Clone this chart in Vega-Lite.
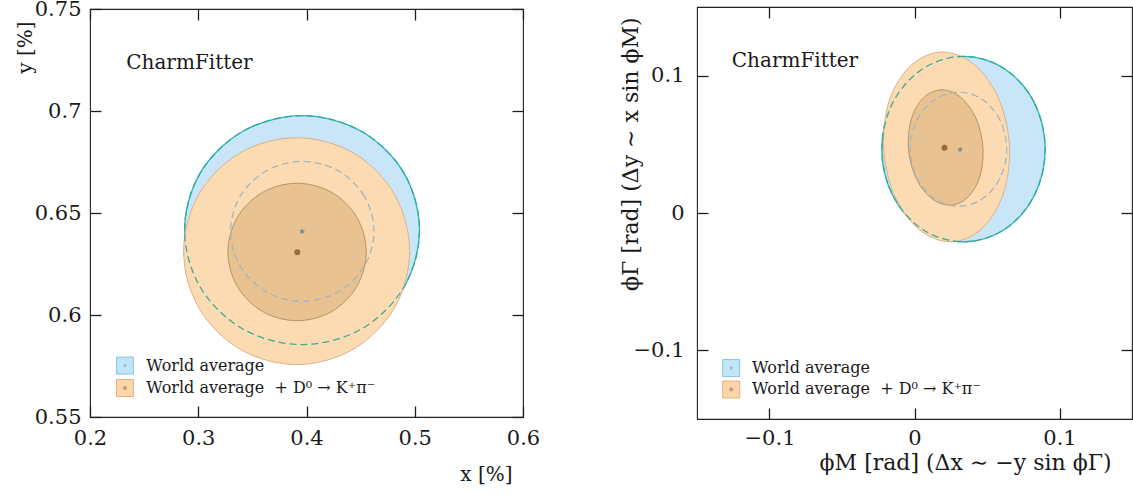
{
  "$schema": "https://vega.github.io/schema/vega-lite/v6.json",
  "padding": {"left": 14, "top": -3, "right": 0, "bottom": 0},
  "bounds": "flush",
  "center": true,
  "spacing": 174,
  "config": {
    "font": "DejaVu Serif",
    "view": {"stroke": "#222222", "strokeWidth": 1.1},
    "axis": {
      "domain": false,
      "grid": false,
      "offset": -11,
      "ticks": true,
      "tickColor": "#1e1e1e",
      "tickOpacity": 1,
      "tickWidth": 1.3,
      "tickSize": 11,
      "labelFontSize": 21,
      "labelColor": "#1a1a1a",
      "labelFont": "DejaVu Serif",
      "labelFlush": false,
      "labelOverlap": false,
      "titleFont": "DejaVu Serif",
      "titleFontWeight": "normal",
      "titleColor": "#1a1a1a",
      "zindex": 2
    }
  },
  "datasets": {
    "left": [
      {"c": "wa2", "i": 0, "x": 0.5044, "y": 0.6416},
      {"c": "wa2", "i": 1, "x": 0.4899, "y": 0.6697},
      {"c": "wa2", "i": 2, "x": 0.4502, "y": 0.6902},
      {"c": "wa2", "i": 3, "x": 0.3959, "y": 0.6977},
      {"c": "wa2", "i": 4, "x": 0.3417, "y": 0.6902},
      {"c": "wa2", "i": 5, "x": 0.3019, "y": 0.6697},
      {"c": "wa2", "i": 6, "x": 0.2874, "y": 0.6416},
      {"c": "wa2", "i": 7, "x": 0.3019, "y": 0.6136},
      {"c": "wa2", "i": 8, "x": 0.3417, "y": 0.5930},
      {"c": "wa2", "i": 9, "x": 0.3959, "y": 0.5855},
      {"c": "wa2", "i": 10, "x": 0.4502, "y": 0.5930},
      {"c": "wa2", "i": 11, "x": 0.4899, "y": 0.6136},
      {"c": "wa1", "i": 0, "x": 0.4623, "y": 0.6410},
      {"c": "wa1", "i": 1, "x": 0.4534, "y": 0.6582},
      {"c": "wa1", "i": 2, "x": 0.4292, "y": 0.6707},
      {"c": "wa1", "i": 3, "x": 0.3961, "y": 0.6753},
      {"c": "wa1", "i": 4, "x": 0.3630, "y": 0.6707},
      {"c": "wa1", "i": 5, "x": 0.3388, "y": 0.6582},
      {"c": "wa1", "i": 6, "x": 0.3299, "y": 0.6410},
      {"c": "wa1", "i": 7, "x": 0.3388, "y": 0.6239},
      {"c": "wa1", "i": 8, "x": 0.3630, "y": 0.6113},
      {"c": "wa1", "i": 9, "x": 0.3961, "y": 0.6067},
      {"c": "wa1", "i": 10, "x": 0.4292, "y": 0.6113},
      {"c": "wa1", "i": 11, "x": 0.4534, "y": 0.6239},
      {"c": "cb2", "i": 0, "x": 0.4953, "y": 0.6313},
      {"c": "cb2", "i": 1, "x": 0.4813, "y": 0.6591},
      {"c": "cb2", "i": 2, "x": 0.4431, "y": 0.6795},
      {"c": "cb2", "i": 3, "x": 0.3909, "y": 0.6869},
      {"c": "cb2", "i": 4, "x": 0.3387, "y": 0.6795},
      {"c": "cb2", "i": 5, "x": 0.3005, "y": 0.6591},
      {"c": "cb2", "i": 6, "x": 0.2865, "y": 0.6313},
      {"c": "cb2", "i": 7, "x": 0.3005, "y": 0.6035},
      {"c": "cb2", "i": 8, "x": 0.3387, "y": 0.5832},
      {"c": "cb2", "i": 9, "x": 0.3909, "y": 0.5757},
      {"c": "cb2", "i": 10, "x": 0.4431, "y": 0.5832},
      {"c": "cb2", "i": 11, "x": 0.4813, "y": 0.6035},
      {"c": "cb1", "i": 0, "x": 0.4552, "y": 0.6309},
      {"c": "cb1", "i": 1, "x": 0.4466, "y": 0.6478},
      {"c": "cb1", "i": 2, "x": 0.4233, "y": 0.6601},
      {"c": "cb1", "i": 3, "x": 0.3913, "y": 0.6646},
      {"c": "cb1", "i": 4, "x": 0.3594, "y": 0.6601},
      {"c": "cb1", "i": 5, "x": 0.3360, "y": 0.6478},
      {"c": "cb1", "i": 6, "x": 0.3274, "y": 0.6309},
      {"c": "cb1", "i": 7, "x": 0.3360, "y": 0.6141},
      {"c": "cb1", "i": 8, "x": 0.3594, "y": 0.6017},
      {"c": "cb1", "i": 9, "x": 0.3913, "y": 0.5972},
      {"c": "cb1", "i": 10, "x": 0.4233, "y": 0.6017},
      {"c": "cb1", "i": 11, "x": 0.4466, "y": 0.6141}
    ],
    "right": [
      {"c": "wa2", "i": 0, "x": 0.0901, "y": 0.0465},
      {"c": "wa2", "i": 1, "x": 0.0826, "y": 0.0803},
      {"c": "wa2", "i": 2, "x": 0.0620, "y": 0.1050},
      {"c": "wa2", "i": 3, "x": 0.0338, "y": 0.1140},
      {"c": "wa2", "i": 4, "x": 0.0057, "y": 0.1050},
      {"c": "wa2", "i": 5, "x": -0.0150, "y": 0.0803},
      {"c": "wa2", "i": 6, "x": -0.0225, "y": 0.0465},
      {"c": "wa2", "i": 7, "x": -0.0150, "y": 0.0128},
      {"c": "wa2", "i": 8, "x": 0.0057, "y": -0.0120},
      {"c": "wa2", "i": 9, "x": 0.0338, "y": -0.0210},
      {"c": "wa2", "i": 10, "x": 0.0620, "y": -0.0120},
      {"c": "wa2", "i": 11, "x": 0.0826, "y": 0.0128},
      {"c": "wa1", "i": 0, "x": 0.0636, "y": 0.0465},
      {"c": "wa1", "i": 1, "x": 0.0591, "y": 0.0673},
      {"c": "wa1", "i": 2, "x": 0.0470, "y": 0.0825},
      {"c": "wa1", "i": 3, "x": 0.0303, "y": 0.0881},
      {"c": "wa1", "i": 4, "x": 0.0137, "y": 0.0825},
      {"c": "wa1", "i": 5, "x": 0.0015, "y": 0.0673},
      {"c": "wa1", "i": 6, "x": -0.0030, "y": 0.0465},
      {"c": "wa1", "i": 7, "x": 0.0015, "y": 0.0257},
      {"c": "wa1", "i": 8, "x": 0.0137, "y": 0.0105},
      {"c": "wa1", "i": 9, "x": 0.0303, "y": 0.0049},
      {"c": "wa1", "i": 10, "x": 0.0470, "y": 0.0105},
      {"c": "wa1", "i": 11, "x": 0.0591, "y": 0.0257},
      {"c": "cb2", "i": 0, "x": 0.0655, "y": 0.0481},
      {"c": "cb2", "i": 1, "x": 0.0583, "y": 0.0827},
      {"c": "cb2", "i": 2, "x": 0.0414, "y": 0.1079},
      {"c": "cb2", "i": 3, "x": 0.0193, "y": 0.1172},
      {"c": "cb2", "i": 4, "x": -0.0020, "y": 0.1079},
      {"c": "cb2", "i": 5, "x": -0.0171, "y": 0.0827},
      {"c": "cb2", "i": 6, "x": -0.0213, "y": 0.0481},
      {"c": "cb2", "i": 7, "x": -0.0141, "y": 0.0136},
      {"c": "cb2", "i": 8, "x": 0.0028, "y": -0.0117},
      {"c": "cb2", "i": 9, "x": 0.0249, "y": -0.0210},
      {"c": "cb2", "i": 10, "x": 0.0462, "y": -0.0117},
      {"c": "cb2", "i": 11, "x": 0.0611, "y": 0.0136},
      {"c": "cb1", "i": 0, "x": 0.0472, "y": 0.0477},
      {"c": "cb1", "i": 1, "x": 0.0425, "y": 0.0687},
      {"c": "cb1", "i": 2, "x": 0.0321, "y": 0.0841},
      {"c": "cb1", "i": 3, "x": 0.0189, "y": 0.0897},
      {"c": "cb1", "i": 4, "x": 0.0064, "y": 0.0841},
      {"c": "cb1", "i": 5, "x": -0.0021, "y": 0.0687},
      {"c": "cb1", "i": 6, "x": -0.0042, "y": 0.0477},
      {"c": "cb1", "i": 7, "x": 0.0005, "y": 0.0267},
      {"c": "cb1", "i": 8, "x": 0.0109, "y": 0.0113},
      {"c": "cb1", "i": 9, "x": 0.0241, "y": 0.0057},
      {"c": "cb1", "i": 10, "x": 0.0366, "y": 0.0113},
      {"c": "cb1", "i": 11, "x": 0.0451, "y": 0.0267}
    ],
    "leftCentres": [
      {"s": "wa", "x": 0.396, "y": 0.641},
      {"s": "cb", "x": 0.3915, "y": 0.6308}
    ],
    "rightCentres": [
      {"s": "wa", "x": 0.0315, "y": 0.0462},
      {"s": "cb", "x": 0.0207, "y": 0.0476}
    ]
  },
  "hconcat": [
    {
      "width": 433,
      "height": 408,
      "resolve": {"axis": {"x": "independent", "y": "independent"}},
      "layer": [
        {
          "data": {"name": "left"},
          "transform": [{"filter": "datum.c === 'wa2'"}],
          "mark": {"type": "line", "interpolate": "cardinal-closed", "fill": "#c8e6f8", "stroke": "#23b4c6", "strokeWidth": 1.3},
          "encoding": {
            "x": {"field": "x", "type": "quantitative", "scale": {"domain": [0.2, 0.6], "nice": false, "zero": false},
                  "axis": {"orient": "bottom", "values": [0.2, 0.3, 0.4, 0.5, 0.6], "format": "~g", "labelPadding": 10,
                           "title": "x [%]", "titleFontSize": 20, "titleX": 422, "titleY": 74, "titleAlign": "right", "titleBaseline": "alphabetic", "titleAngle": 0}},
            "y": {"field": "y", "type": "quantitative", "scale": {"domain": [0.55, 0.75], "nice": false, "zero": false},
                  "axis": {"orient": "left", "values": [0.55, 0.6, 0.65, 0.7, 0.75], "format": "~g", "labelPadding": 9,
                           "title": "y [%]", "titleFontSize": 20, "titleX": -70, "titleY": 12, "titleAlign": "right", "titleBaseline": "alphabetic", "titleAngle": 270}},
            "order": {"field": "i", "type": "quantitative"}
          }
        },
        {
          "data": {"name": "left"},
          "transform": [{"filter": "datum.c === 'cb2'"}],
          "mark": {"type": "line", "interpolate": "cardinal-closed", "fill": "#fddbb2", "stroke": "#dcb089", "strokeWidth": 1},
          "encoding": {
            "x": {"field": "x", "type": "quantitative", "axis": null},
            "y": {"field": "y", "type": "quantitative", "axis": null},
            "order": {"field": "i", "type": "quantitative"}
          }
        },
        {
          "data": {"name": "left"},
          "transform": [{"filter": "datum.c === 'cb1'"}],
          "mark": {"type": "line", "interpolate": "cardinal-closed", "fill": "#e9c291", "stroke": "#b89262", "strokeWidth": 1},
          "encoding": {
            "x": {"field": "x", "type": "quantitative", "axis": null},
            "y": {"field": "y", "type": "quantitative", "axis": null},
            "order": {"field": "i", "type": "quantitative"}
          }
        },
        {
          "data": {"name": "left"},
          "transform": [{"filter": "datum.c === 'wa2'"}],
          "mark": {"type": "line", "interpolate": "cardinal-closed", "stroke": "#39aa93", "strokeWidth": 1.3, "strokeDash": [7, 4]},
          "encoding": {
            "x": {"field": "x", "type": "quantitative", "axis": null},
            "y": {"field": "y", "type": "quantitative", "axis": null},
            "order": {"field": "i", "type": "quantitative"}
          }
        },
        {
          "data": {"name": "left"},
          "transform": [{"filter": "datum.c === 'wa1'"}],
          "mark": {"type": "line", "interpolate": "cardinal-closed", "stroke": "#a3b6bd", "strokeWidth": 1.3, "strokeDash": [7, 4]},
          "encoding": {
            "x": {"field": "x", "type": "quantitative", "axis": null},
            "y": {"field": "y", "type": "quantitative", "axis": null},
            "order": {"field": "i", "type": "quantitative"}
          }
        },
        {
          "data": {"name": "leftCentres"},
          "transform": [{"filter": "datum.s === 'wa'"}],
          "mark": {"type": "point", "shape": "M0,-1L0.2245,-0.309L0.951,-0.309L0.363,0.118L0.588,0.809L0,0.382L-0.588,0.809L-0.363,0.118L-0.951,-0.309L-0.2245,-0.309Z", "size": 45, "filled": true, "fill": "#6c8f9a", "opacity": 1},
          "encoding": {
            "x": {"field": "x", "type": "quantitative",
                  "axis": {"orient": "top", "values": [0.2, 0.3, 0.4, 0.5, 0.6], "labels": false, "title": null}},
            "y": {"field": "y", "type": "quantitative",
                  "axis": {"orient": "right", "values": [0.55, 0.6, 0.65, 0.7, 0.75], "labels": false, "title": null}}
          }
        },
        {
          "data": {"name": "leftCentres"},
          "transform": [{"filter": "datum.s === 'cb'"}],
          "mark": {"type": "point", "shape": "circle", "size": 36, "filled": true, "fill": "#9b6b3e", "opacity": 1},
          "encoding": {
            "x": {"field": "x", "type": "quantitative", "axis": null},
            "y": {"field": "y", "type": "quantitative", "axis": null}
          }
        },
        {
          "data": {"values": [{}]},
          "mark": {"type": "text", "text": "CharmFitter", "align": "left", "baseline": "alphabetic", "fontSize": 20, "color": "#1a1a1a"},
          "encoding": {
            "x": {"datum": 0.2335, "type": "quantitative", "axis": null},
            "y": {"datum": 0.7206, "type": "quantitative", "axis": null}
          }
        },
        {
          "data": {"values": [{}]},
          "mark": {"type": "point", "shape": "square", "size": 289, "filled": true, "fill": "#c2e4f8", "stroke": "#86c7e4", "strokeWidth": 1, "opacity": 1},
          "encoding": {
            "x": {"datum": 0.2323, "type": "quantitative", "axis": null},
            "y": {"datum": 0.5752, "type": "quantitative", "axis": null}
          }
        },
        {
          "data": {"values": [{}]},
          "mark": {"type": "point", "shape": "M0,-1L0.2245,-0.309L0.951,-0.309L0.363,0.118L0.588,0.809L0,0.382L-0.588,0.809L-0.363,0.118L-0.951,-0.309L-0.2245,-0.309Z", "size": 22, "filled": true, "fill": "#86b9d2", "opacity": 1},
          "encoding": {
            "x": {"datum": 0.2323, "type": "quantitative", "axis": null},
            "y": {"datum": 0.5752, "type": "quantitative", "axis": null}
          }
        },
        {
          "data": {"values": [{}]},
          "mark": {"type": "text", "text": "World average", "align": "left", "baseline": "middle", "fontSize": 16, "color": "#1a1a1a"},
          "encoding": {
            "x": {"datum": 0.252, "type": "quantitative", "axis": null},
            "y": {"datum": 0.5752, "type": "quantitative", "axis": null}
          }
        },
        {
          "data": {"values": [{}]},
          "mark": {"type": "point", "shape": "square", "size": 289, "filled": true, "fill": "#fcd6ab", "stroke": "#e3b384", "strokeWidth": 1, "opacity": 1},
          "encoding": {
            "x": {"datum": 0.2323, "type": "quantitative", "axis": null},
            "y": {"datum": 0.5642, "type": "quantitative", "axis": null}
          }
        },
        {
          "data": {"values": [{}]},
          "mark": {"type": "point", "shape": "circle", "size": 18, "filled": true, "fill": "#c69f79", "opacity": 1},
          "encoding": {
            "x": {"datum": 0.2323, "type": "quantitative", "axis": null},
            "y": {"datum": 0.5642, "type": "quantitative", "axis": null}
          }
        },
        {
          "data": {"values": [{}]},
          "mark": {"type": "text", "text": "World average\u00a0 + D⁰ → K⁺π⁻", "align": "left", "baseline": "middle", "fontSize": 16, "color": "#1a1a1a"},
          "encoding": {
            "x": {"datum": 0.252, "type": "quantitative", "axis": null},
            "y": {"datum": 0.5642, "type": "quantitative", "axis": null}
          }
        }
      ]
    },
    {
      "width": 435,
      "height": 412,
      "resolve": {"axis": {"x": "independent", "y": "independent"}},
      "layer": [
        {
          "data": {"name": "right"},
          "transform": [{"filter": "datum.c === 'wa2'"}],
          "mark": {"type": "line", "interpolate": "cardinal-closed", "fill": "#c8e6f8", "stroke": "#23b4c6", "strokeWidth": 1.3},
          "encoding": {
            "x": {"field": "x", "type": "quantitative", "scale": {"domain": [-0.15, 0.15], "nice": false, "zero": false},
                  "axis": {"orient": "bottom", "values": [-0.1, 0, 0.1], "format": "~g", "labelPadding": 8,
                           "title": "ϕM [rad] (Δx ∼ −y sin ϕΓ)", "titleFontSize": 22, "titleX": 414, "titleY": 61, "titleAlign": "right", "titleBaseline": "alphabetic", "titleAngle": 0}},
            "y": {"field": "y", "type": "quantitative", "scale": {"domain": [-0.15, 0.15], "nice": false, "zero": false},
                  "axis": {"orient": "left", "values": [-0.1, 0, 0.1], "format": "~g", "labelPadding": 13,
                           "title": "ϕΓ [rad] (Δy ∼ x sin ϕM)", "titleFontSize": 22, "titleX": -71, "titleY": 10, "titleAlign": "right", "titleBaseline": "alphabetic", "titleAngle": 270}},
            "order": {"field": "i", "type": "quantitative"}
          }
        },
        {
          "data": {"name": "right"},
          "transform": [{"filter": "datum.c === 'cb2'"}],
          "mark": {"type": "line", "interpolate": "cardinal-closed", "fill": "#fddbb2", "stroke": "#dcb089", "strokeWidth": 1},
          "encoding": {
            "x": {"field": "x", "type": "quantitative", "axis": null},
            "y": {"field": "y", "type": "quantitative", "axis": null},
            "order": {"field": "i", "type": "quantitative"}
          }
        },
        {
          "data": {"name": "right"},
          "transform": [{"filter": "datum.c === 'cb1'"}],
          "mark": {"type": "line", "interpolate": "cardinal-closed", "fill": "#e9c291", "stroke": "#b89262", "strokeWidth": 1},
          "encoding": {
            "x": {"field": "x", "type": "quantitative", "axis": null},
            "y": {"field": "y", "type": "quantitative", "axis": null},
            "order": {"field": "i", "type": "quantitative"}
          }
        },
        {
          "data": {"name": "right"},
          "transform": [{"filter": "datum.c === 'wa2'"}],
          "mark": {"type": "line", "interpolate": "cardinal-closed", "stroke": "#39aa93", "strokeWidth": 1.3, "strokeDash": [7, 4]},
          "encoding": {
            "x": {"field": "x", "type": "quantitative", "axis": null},
            "y": {"field": "y", "type": "quantitative", "axis": null},
            "order": {"field": "i", "type": "quantitative"}
          }
        },
        {
          "data": {"name": "right"},
          "transform": [{"filter": "datum.c === 'wa1'"}],
          "mark": {"type": "line", "interpolate": "cardinal-closed", "stroke": "#a3b6bd", "strokeWidth": 1.3, "strokeDash": [7, 4]},
          "encoding": {
            "x": {"field": "x", "type": "quantitative", "axis": null},
            "y": {"field": "y", "type": "quantitative", "axis": null},
            "order": {"field": "i", "type": "quantitative"}
          }
        },
        {
          "data": {"name": "rightCentres"},
          "transform": [{"filter": "datum.s === 'wa'"}],
          "mark": {"type": "point", "shape": "M0,-1L0.2245,-0.309L0.951,-0.309L0.363,0.118L0.588,0.809L0,0.382L-0.588,0.809L-0.363,0.118L-0.951,-0.309L-0.2245,-0.309Z", "size": 45, "filled": true, "fill": "#6c8f9a", "opacity": 1},
          "encoding": {
            "x": {"field": "x", "type": "quantitative",
                  "axis": {"orient": "top", "values": [-0.1, 0, 0.1], "labels": false, "title": null}},
            "y": {"field": "y", "type": "quantitative",
                  "axis": {"orient": "right", "values": [-0.1, 0, 0.1], "labels": false, "title": null}}
          }
        },
        {
          "data": {"name": "rightCentres"},
          "transform": [{"filter": "datum.s === 'cb'"}],
          "mark": {"type": "point", "shape": "circle", "size": 36, "filled": true, "fill": "#9b6b3e", "opacity": 1},
          "encoding": {
            "x": {"field": "x", "type": "quantitative", "axis": null},
            "y": {"field": "y", "type": "quantitative", "axis": null}
          }
        },
        {
          "data": {"values": [{}]},
          "mark": {"type": "text", "text": "CharmFitter", "align": "left", "baseline": "alphabetic", "fontSize": 20, "color": "#1a1a1a"},
          "encoding": {
            "x": {"datum": -0.126, "type": "quantitative", "axis": null},
            "y": {"datum": 0.1063, "type": "quantitative", "axis": null}
          }
        },
        {
          "data": {"values": [{}]},
          "mark": {"type": "point", "shape": "square", "size": 289, "filled": true, "fill": "#c2e4f8", "stroke": "#86c7e4", "strokeWidth": 1, "opacity": 1},
          "encoding": {
            "x": {"datum": -0.1264, "type": "quantitative", "axis": null},
            "y": {"datum": -0.1129, "type": "quantitative", "axis": null}
          }
        },
        {
          "data": {"values": [{}]},
          "mark": {"type": "point", "shape": "M0,-1L0.2245,-0.309L0.951,-0.309L0.363,0.118L0.588,0.809L0,0.382L-0.588,0.809L-0.363,0.118L-0.951,-0.309L-0.2245,-0.309Z", "size": 22, "filled": true, "fill": "#86b9d2", "opacity": 1},
          "encoding": {
            "x": {"datum": -0.1264, "type": "quantitative", "axis": null},
            "y": {"datum": -0.1129, "type": "quantitative", "axis": null}
          }
        },
        {
          "data": {"values": [{}]},
          "mark": {"type": "text", "text": "World average", "align": "left", "baseline": "middle", "fontSize": 16, "color": "#1a1a1a"},
          "encoding": {
            "x": {"datum": -0.1121, "type": "quantitative", "axis": null},
            "y": {"datum": -0.1129, "type": "quantitative", "axis": null}
          }
        },
        {
          "data": {"values": [{}]},
          "mark": {"type": "point", "shape": "square", "size": 289, "filled": true, "fill": "#fcd6ab", "stroke": "#e3b384", "strokeWidth": 1, "opacity": 1},
          "encoding": {
            "x": {"datum": -0.1264, "type": "quantitative", "axis": null},
            "y": {"datum": -0.1285, "type": "quantitative", "axis": null}
          }
        },
        {
          "data": {"values": [{}]},
          "mark": {"type": "point", "shape": "circle", "size": 18, "filled": true, "fill": "#c69f79", "opacity": 1},
          "encoding": {
            "x": {"datum": -0.1264, "type": "quantitative", "axis": null},
            "y": {"datum": -0.1285, "type": "quantitative", "axis": null}
          }
        },
        {
          "data": {"values": [{}]},
          "mark": {"type": "text", "text": "World average\u00a0 + D⁰ → K⁺π⁻", "align": "left", "baseline": "middle", "fontSize": 16, "color": "#1a1a1a"},
          "encoding": {
            "x": {"datum": -0.1121, "type": "quantitative", "axis": null},
            "y": {"datum": -0.1285, "type": "quantitative", "axis": null}
          }
        }
      ]
    }
  ]
}
